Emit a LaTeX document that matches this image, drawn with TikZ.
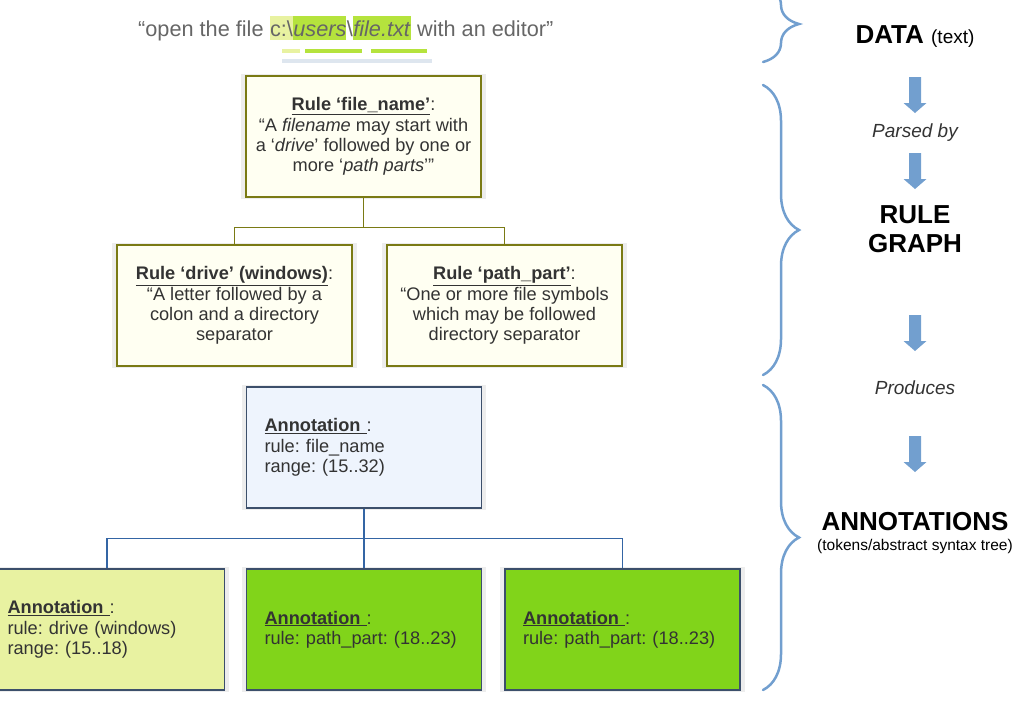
\documentclass[tikz,border=0pt]{standalone}
\usepackage{fontspec}
\setmainfont{Liberation Sans}
\usetikzlibrary{positioning,shadows,decorations.pathreplacing}
\frenchspacing

\definecolor{ruleline}{HTML}{7A7A14}
\definecolor{rulefill}{HTML}{FFFFF2}
\definecolor{annoline}{HTML}{3C4F6B}
\definecolor{annolink}{HTML}{3465A4}
\definecolor{annofill}{HTML}{EEF4FD}
\definecolor{drivefill}{HTML}{E8F2A1}
\definecolor{limefill}{HTML}{81D41A}
\definecolor{limemark}{HTML}{B5E33D}
\definecolor{markblue}{HTML}{DEE6EF}
\definecolor{arrowblue}{HTML}{729FCF}
\definecolor{textgray}{HTML}{333333}
\definecolor{quotegray}{HTML}{666666}

\newcommand\boxfont{\fontsize{18.2}{20.3}\selectfont}

\tikzset{
    boxshadow/.style={general shadow={fill=black!7, shadow scale=1.04}},
    rulebox/.style={draw=ruleline, line width=1.2pt, fill=rulefill,
        minimum width=235pt, minimum height=121pt, align=center,
        font=\boxfont, text=textgray, boxshadow},
    annobox/.style={draw=annoline, line width=1.2pt, text width=199pt,
        inner xsep=18pt, minimum height=121pt, align=left,
        font=\boxfont, text=textgray, boxshadow},
    quotepart/.style={font=\fontsize{21.7}{25}\selectfont, text=quotegray,
        inner xsep=0pt, inner ysep=0pt, text height=20pt, text depth=4pt,
        anchor=base west},
    rulelink/.style={draw=ruleline, line width=1.2pt},
    annolink/.style={draw=annolink, line width=1.2pt},
    sidebrace/.style={draw=arrowblue, line width=2.5pt, line cap=round,
        decorate, decoration={brace, amplitude=36pt, aspect=0.5}},
    biglabel/.style={font=\fontsize{26}{30}\selectfont\bfseries, anchor=base},
    steplabel/.style={font=\fontsize{19}{22}\selectfont\itshape,
        text=textgray, anchor=base}
}

\begin{document}
\begin{tikzpicture}[x=1pt,y=-1pt]
    \useasboundingbox (0,0) rectangle (1024,724);

    % the data line
    \node[quotepart] (q1) at (138,36) {“open the file};
    \node[quotepart, fill=drivefill] (q2) at ([xshift=6pt]q1.base east) {c:\textbackslash};
    \node[quotepart, fill=limemark] (q3) at (q2.base east) {\textit{users}};
    \node[quotepart] (q4) at (q3.base east) {\textbackslash};
    \node[quotepart, fill=limemark] (q5) at (q4.base east) {\textit{file.txt}};
    \node[quotepart] (q6) at ([xshift=6pt]q5.base east) {with an editor”};
    \fill[drivefill] (282,49) rectangle (300,53);
    \fill[limemark] (305,49) rectangle (362,53);
    \fill[limemark] (371,49) rectangle (427,53);
    \fill[markblue] (282,59) rectangle (432,63);

    % rule graph
    \node[rulebox] (rfile) at (363.5,136.5)
        {\underline{\textbf{Rule ‘file\_name’}}:\\
         “A \textit{filename} may start with\\
         a ‘\textit{drive}’ followed by one or\\
         more ‘\textit{path parts}’”};
    \node[rulebox] (rdrive) at (234.5,305.5)
        {\underline{\textbf{Rule ‘drive’ (windows)}}:\\
         “A letter followed by a\\
         colon and a directory\\
         separator};
    \node[rulebox] (rpath) at (504.5,305.5)
        {\underline{\textbf{Rule ‘path\_part’}}:\\
         “One or more file symbols\\
         which may be followed\\
         directory separator};
    \coordinate (rmid) at ([yshift=-30pt]rfile.south);
    \draw[rulelink] (rfile.south) -- (rmid);
    \draw[rulelink] (rdrive.north) |- (rmid) -| (rpath.north);

    % annotations
    \node[annobox, fill=annofill] (afile) at (364,447.5)
        {\underline{\textbf{Annotation }}:\\
         rule: file\_name\\
         range: (15..32)};
    \node[annobox, fill=drivefill] (adrive) at (107,629.5)
        {\underline{\textbf{Annotation }}:\\
         rule: drive (windows)\\
         range: (15..18)};
    \node[annobox, fill=limefill] (apath) at (364,629.5)
        {\underline{\textbf{Annotation }}:\\
         rule: path\_part: (18..23)};
    \node[annobox, fill=limefill] (apathb) at (622.5,629.5)
        {\underline{\textbf{Annotation }}:\\
         rule: path\_part: (18..23)};
    \coordinate (amid) at ([yshift=-30pt]afile.south);
    \draw[annolink] (afile.south) -- (apath.north);
    \draw[annolink] (adrive.north) |- (amid) -| (apathb.north);

    % braces and steps on the right
    \draw[sidebrace] (763,-14) -- (763,62);
    \draw[sidebrace] (763,85) -- (763,375);
    \draw[sidebrace] (763,385) -- (763,690);
    \foreach \t in {77,153,315,436}
        \fill[arrowblue] (909,\t) -- (921,\t) -- (921,\t+26) -- (926.5,\t+26)
            -- (915,\t+36) -- (903.5,\t+26) -- (909,\t+26) -- cycle;

    \node[biglabel] (ldata) at (915,43)
        {DATA {\fontsize{19}{22}\selectfont\mdseries(text)}};
    \node[steplabel] (lparsed) at (915,137) {Parsed by};
    \node[biglabel] (lrule) at (915,223) {RULE};
    \node[biglabel] (lgraph) at (915,252) {GRAPH};
    \node[steplabel] (lproduces) at (915,394) {Produces};
    \node[biglabel] (lanno) at (915,530) {ANNOTATIONS};
    \node[font=\fontsize{15.5}{18}\selectfont, anchor=base] (ltree) at (915,550)
        {(tokens/abstract syntax tree)};
\end{tikzpicture}
\end{document}
